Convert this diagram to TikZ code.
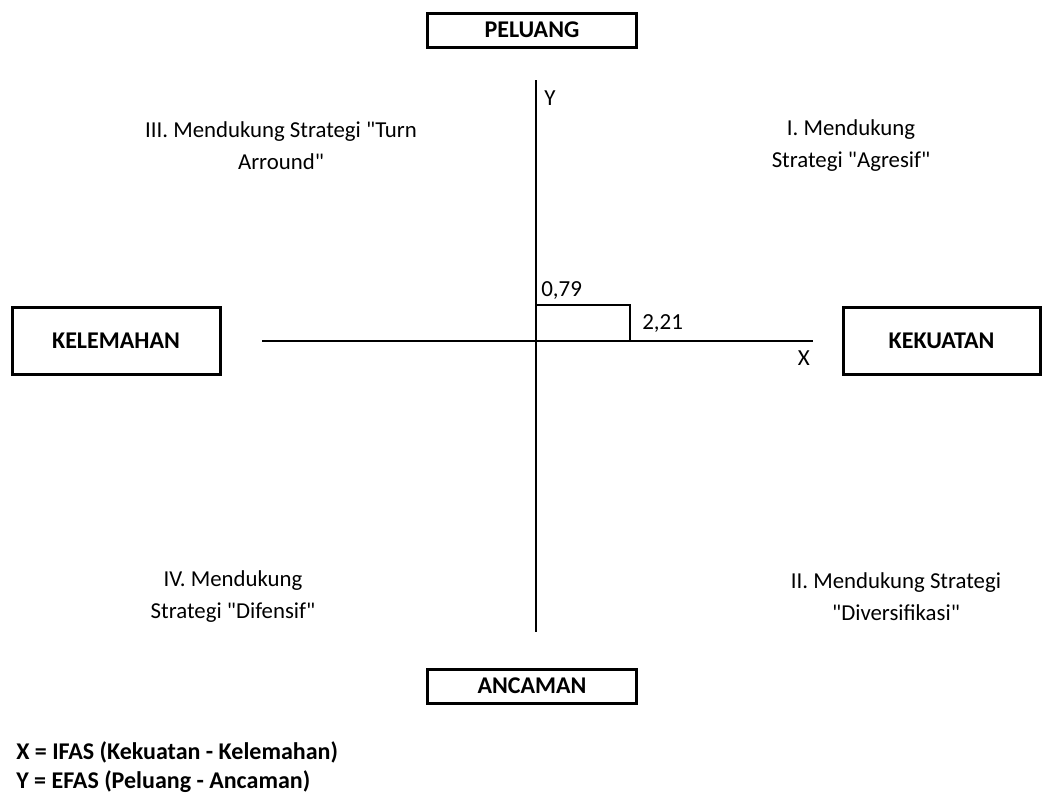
\documentclass[tikz,border=0pt]{standalone}
\usepackage{fontspec}
\setmainfont{Carlito}[Ligatures=TeXOff]
\usetikzlibrary{positioning, calc}
\definecolor{cink}{HTML}{000000}
\tikzset{
  every picture/.style={x=1pt, y=-1pt, line width=2.6pt},
  sbox/.style={draw=cink, line width=3pt, font=\bfseries\fontsize{24}{26}\selectfont, inner sep=0pt},
  quad/.style={font=\fontsize{22.8}{32}\selectfont, align=center, inner sep=0pt},
  lbl/.style={font=\fontsize{23}{25}\selectfont, inner sep=0pt},
  legend/.style={font=\bfseries\fontsize{24}{29}\selectfont, align=left, anchor=west, inner sep=0pt},
}
\begin{document}
\begin{tikzpicture}
  \useasboundingbox (0,0) rectangle (1044,796);
  % the four boxes
  \node[sbox, minimum width=209pt, minimum height=34pt] (peluang) at (532,30) {PELUANG};
  \node[sbox, minimum width=209pt, minimum height=34pt] (ancaman) at (532,686) {ANCAMAN};
  \node[sbox, minimum width=208pt, minimum height=67pt] (kelemahan) at (116,341) {KELEMAHAN};
  \node[sbox, minimum width=197pt, minimum height=67pt] (kekuatan) at (941.5,341) {KEKUATAN};
  % axes
  \coordinate (ytop) at (536,80);
  \coordinate (ybot) at (536,632);
  \coordinate (xleft) at (262,341);
  \coordinate (xright) at (813,341);
  \coordinate (o) at (536,341);
  \draw (ytop) -- (ybot);
  \draw (xleft) -- (xright);
  \node[lbl, anchor=west] (ylbl) at (543,98) {Y};
  \node[lbl, anchor=east] (xlbl) at (811,358) {X};
  % score point
  \coordinate (p) at (630,305);
  \draw (o |- p) -- (p) -- (p |- o);
  \node[lbl, anchor=south west] (vy) at ($(o |- p)+(4,-4)$) {0,79};
  \node[lbl, anchor=south west] (vx) at ($(p |- o)+(11,-7)$) {2,21};
  % quadrants
  \node[quad] (q3) at (281,146) {III. Mendukung Strategi "Turn\\Arround"};
  \node[quad] (q1) at (851,146) {I. Mendukung\\Strategi "Agresif"};
  \node[quad] (q4) at (233,597) {IV. Mendukung\\Strategi "Difensif"};
  \node[quad] (q2) at (896,597) {II. Mendukung Strategi\\"Diversifikasi"};
  % legend
  \node[legend] (leg) at (15,767) {X = IFAS (Kekuatan - Kelemahan)\\Y = EFAS (Peluang - Ancaman)};
\end{tikzpicture}
\end{document}
